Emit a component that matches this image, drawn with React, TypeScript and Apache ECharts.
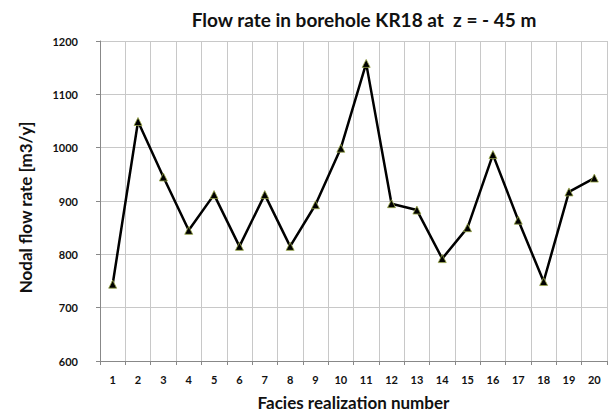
import React, { useEffect, useRef } from "react";
import * as echarts from "echarts";

const categories = ["1","2","3","4","5","6","7","8","9","10","11","12","13","14","15","16","17","18","19","20"];
const flowRates = [744, 1049, 945, 845, 912, 815, 912, 815, 893, 999, 1158, 895, 883, 792, 850, 987, 864, 749, 917, 943];
const titleText = "Flow rate in borehole KR18 at  z = - 45 m";
const xAxisName = "Facies realization number";
const yAxisName = "Nodal flow rate [m3/y]";

export default function App() {
  const ref = useRef<HTMLDivElement>(null);
  useEffect(() => {
    if (!ref.current) return;
    const chart = echarts.init(ref.current, undefined, { renderer: "svg" });
    const font = "Lato, 'Open Sans', sans-serif";
    chart.setOption({
      animation: false,
      backgroundColor: "#ffffff",
      title: {
        text: titleText,
        left: 359,
        top: 5,
        textAlign: "center",
        textStyle: { fontFamily: font, fontSize: 19, fontWeight: "bold", color: "#111" },
      },
      grid: { left: 100, right: 4, top: 41, bottom: 54, containLabel: false },
      xAxis: {
        type: "category",
        data: categories,
        boundaryGap: true,
        name: xAxisName,
        nameLocation: "middle",
        nameGap: 33,
        nameTextStyle: { fontFamily: font, fontSize: 17, fontWeight: "bold", color: "#111" },
        axisLine: { lineStyle: { color: "#888", width: 1 } },
        axisTick: { show: true, length: 4, lineStyle: { color: "#888" } },
        axisLabel: { fontFamily: font, fontSize: 11, fontWeight: "bold", color: "#111", margin: 13, interval: 0 },
        splitLine: { show: true, lineStyle: { color: "#c8c8c8", width: 1 } },
      },
      yAxis: {
        type: "value",
        min: 600,
        max: 1200,
        interval: 100,
        name: yAxisName,
        nameLocation: "middle",
        nameGap: 66,
        nameTextStyle: { fontFamily: font, fontSize: 17, fontWeight: "bold", color: "#111", padding: [0, 13, 0, 0] },
        axisLine: { show: true, lineStyle: { color: "#888", width: 1 } },
        axisTick: { show: true, length: 4, lineStyle: { color: "#888" } },
        axisLabel: {
          fontFamily: font, fontSize: 11, fontWeight: "bold", color: "#111", margin: 22,
          formatter: (v: number) => String(v),
        },
        splitLine: { show: true, lineStyle: { color: "#c8c8c8", width: 1 } },
      },
      series: [
        {
          type: "line",
          data: flowRates,
          symbol: "triangle",
          symbolSize: 8,
          lineStyle: { color: "#000", width: 2.5 },
          itemStyle: { color: "#000", borderColor: "#9aa84a", borderWidth: 0.8 },
        },
      ],
    });
    return () => chart.dispose();
  }, []);
  return <div ref={ref} style={{ width: 611, height: 416, position: "absolute", left: 0, top: 0 }} />;
}
